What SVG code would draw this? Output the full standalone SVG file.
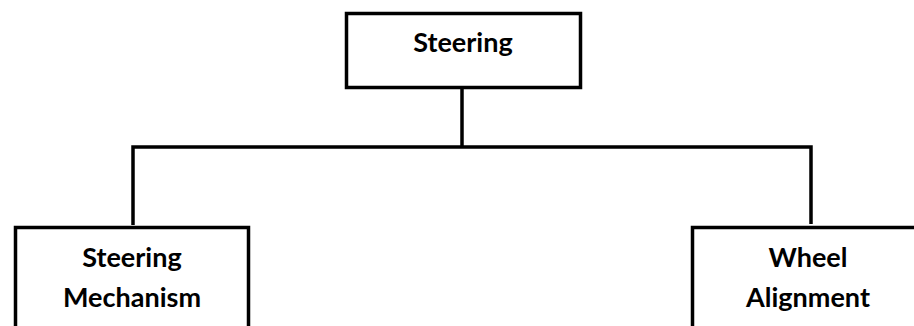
<svg xmlns="http://www.w3.org/2000/svg" width="914" height="326" viewBox="0 0 914 326">
<style>
.box{fill:#fff;stroke:#000;stroke-width:3.5}
.lbl{font-family:Lato,"Open Sans","Liberation Sans",sans-serif;font-weight:bold;font-size:27px;fill:#000;text-anchor:middle}
.con{fill:none;stroke:#000;stroke-width:3.5}
</style>
<rect width="914" height="326" fill="#fff"/>
<g id="connectors">
<path class="con" d="M462,88 V147"/>
<path class="con" d="M133,225 V147 H811 V224"/>
</g>
<g id="steering">
<rect class="box" x="346.5" y="13.5" width="234" height="74"/>
<text class="lbl" x="463" y="52">Steering</text>
</g>
<g id="steering-mechanism">
<rect class="box" x="15.5" y="227.5" width="233" height="120"/>
<text class="lbl" x="132" y="267">Steering</text>
<text class="lbl" x="132" y="307">Mechanism</text>
</g>
<g id="wheel-alignment">
<rect class="box" x="692.5" y="227.5" width="240" height="120"/>
<text class="lbl" x="808" y="267">Wheel</text>
<text class="lbl" x="808" y="307">Alignment</text>
</g>
</svg>
